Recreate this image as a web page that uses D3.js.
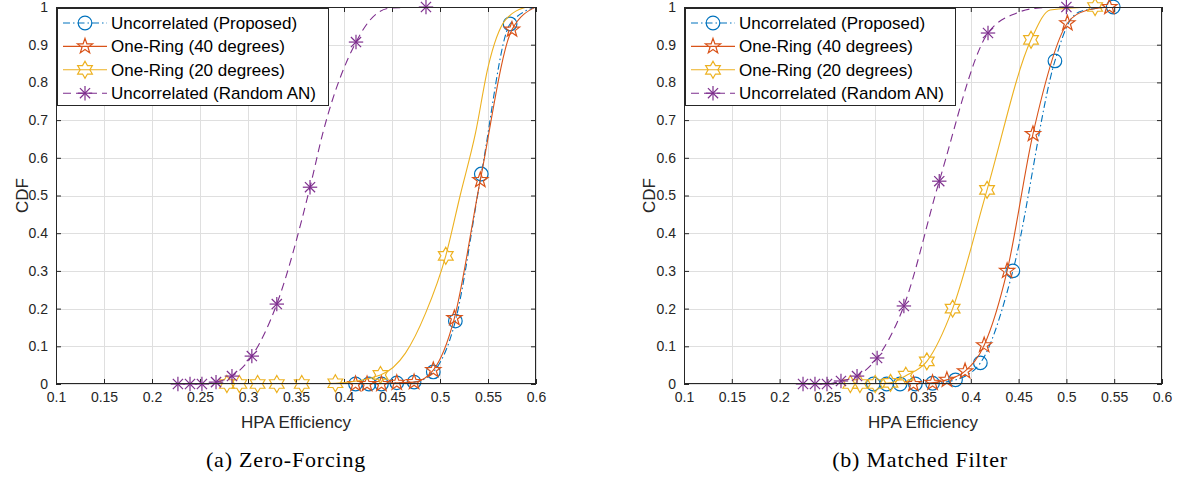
<!DOCTYPE html>
<html><head><meta charset="utf-8">
<script src="https://cdn.jsdelivr.net/npm/d3@7"></script>
<style>body{margin:0;background:#fff}svg{display:block}</style>
</head><body>
<svg id="chart" width="1184" height="479"></svg>
<script>
// ---------------- DATA ----------------
const xTickValues = [0.1, 0.15, 0.2, 0.25, 0.3, 0.35, 0.4, 0.45, 0.5, 0.55, 0.6];
const xTickLabels = ["0.1", "0.15", "0.2", "0.25", "0.3", "0.35", "0.4", "0.45", "0.5", "0.55", "0.6"];
const yTickValues = [0, 0.1, 0.2, 0.3, 0.4, 0.5, 0.6, 0.7, 0.8, 0.9, 1];
const yTickLabels = ["0", "0.1", "0.2", "0.3", "0.4", "0.5", "0.6", "0.7", "0.8", "0.9", "1"];
const seriesNames = ["Uncorrelated (Proposed)", "One-Ring (40 degrees)", "One-Ring (20 degrees)", "Uncorrelated (Random AN)"];
const panelTitles = ["(a) Zero-Forcing", "(b) Matched Filter"];
const xAxisLabel = "HPA Efficiency";
const yAxisLabel = "CDF";

// (a) Zero-Forcing: marker points and extra curve points
const zfProposedX = [0.412, 0.426, 0.439, 0.455, 0.473, 0.493, 0.516, 0.543, 0.573];
const zfProposedY = [0, 0, 0, 0.003, 0.005, 0.032, 0.167, 0.557, 0.955];
const zfProposedCurveX = [0.600];
const zfProposedCurveY = [1.0];

const zfRing40X = [0.412, 0.424, 0.439, 0.455, 0.473, 0.493, 0.515, 0.542, 0.575];
const zfRing40Y = [0, 0, 0, 0.003, 0.005, 0.037, 0.175, 0.541, 0.94];
const zfRing40CurveX = [0.600];
const zfRing40CurveY = [1.0];

const zfRing20X = [0.278, 0.291, 0.310, 0.330, 0.356, 0.391, 0.438, 0.506];
const zfRing20Y = [0, 0, 0, 0, 0, 0.002, 0.024, 0.34];
const zfRing20CurveX = [0.464, 0.485, 0.521, 0.537, 0.550, 0.568, 0.590];
const zfRing20CurveY = [0.082, 0.188, 0.5, 0.666, 0.84, 0.965, 1.0];

const zfRandomX = [0.227, 0.2396, 0.252, 0.2667, 0.2833, 0.304, 0.330, 0.3646, 0.4125, 0.4854];
const zfRandomY = [0, 0, 0, 0.005, 0.021, 0.074, 0.212, 0.522, 0.907, 1.0];
const zfRandomCurveX = [0.378, 0.427, 0.448];
const zfRandomCurveY = [0.666, 0.965, 0.997];

// (b) Matched Filter
const mfProposedX = [0.298, 0.312, 0.326, 0.342, 0.360, 0.384, 0.410, 0.444, 0.488, 0.549];
const mfProposedY = [0, 0, 0, 0, 0.002, 0.011, 0.056, 0.30, 0.857, 1.0];
const mfProposedCurveX = [0.504, 0.517];
const mfProposedCurveY = [0.965, 0.99];

const mfRing40X = [0.340, 0.360, 0.375, 0.394, 0.414, 0.438, 0.465, 0.501, 0.545];
const mfRing40Y = [0, 0.003, 0.011, 0.034, 0.103, 0.30, 0.663, 0.957, 1.0];
const mfRing40CurveX = [0.520];
const mfRing40CurveY = [0.99];

const mfRing20X = [0.274, 0.284, 0.300, 0.316, 0.332, 0.354, 0.381, 0.417, 0.463, 0.530];
const mfRing20Y = [0, 0, 0, 0.003, 0.022, 0.06, 0.20, 0.515, 0.913, 1.0];
const mfRing20CurveX = [0.483];
const mfRing20CurveY = [0.992];

const mfRandomX = [0.2245, 0.237, 0.2496, 0.2642, 0.281, 0.302, 0.330, 0.367, 0.418, 0.500];
const mfRandomY = [0, 0, 0, 0.008, 0.021, 0.069, 0.207, 0.538, 0.931, 1.0];
const mfRandomCurveX = [0.448, 0.469];
const mfRandomCurveY = [0.984, 0.997];

// ---------------- STYLE / LAYOUT ----------------
const colors = ["#0072BD", "#D95319", "#EDB120", "#7E2F8E"];
const dashes = ["7,3,1.5,3", null, null, "8,5"];
const markerKinds = ["circle", "pentagram", "hexagram", "asterisk"];

const panels = [
  { left: 56, right: 536, top: 7, bottom: 384, titleX: 286, ylabX: 22,
    series: [
      [zfProposedX, zfProposedY, zfProposedCurveX, zfProposedCurveY],
      [zfRing40X, zfRing40Y, zfRing40CurveX, zfRing40CurveY],
      [zfRing20X, zfRing20Y, zfRing20CurveX, zfRing20CurveY],
      [zfRandomX, zfRandomY, zfRandomCurveX, zfRandomCurveY]
    ], legendW: 272 },
  { left: 684, right: 1162, top: 7, bottom: 384, titleX: 920, ylabX: 649,
    series: [
      [mfProposedX, mfProposedY, mfProposedCurveX, mfProposedCurveY],
      [mfRing40X, mfRing40Y, mfRing40CurveX, mfRing40CurveY],
      [mfRing20X, mfRing20Y, mfRing20CurveX, mfRing20CurveY],
      [mfRandomX, mfRandomY, mfRandomCurveX, mfRandomCurveY]
    ], legendW: 271 }
];

const svg = d3.select("#chart");
svg.append("rect").attr("width", 1184).attr("height", 479).attr("fill", "#fff");
const axisColor = "#262626";
const sansFont = "'Liberation Sans', Arial, Helvetica, sans-serif";

function starPath(r, points, innerRatio) {
  const pts = [];
  for (let i = 0; i < points * 2; i++) {
    const rr = i % 2 === 0 ? r : r * innerRatio;
    const a = -Math.PI / 2 + i * Math.PI / points;
    pts.push([rr * Math.cos(a), rr * Math.sin(a)]);
  }
  return "M" + pts.map(p => p[0].toFixed(2) + "," + p[1].toFixed(2)).join("L") + "Z";
}

function drawMarker(g, kind, cx, cy, color) {
  const m = g.append("g").attr("transform", `translate(${cx},${cy})`)
    .attr("fill", "none").attr("stroke", color).attr("stroke-width", 1.2);
  if (kind === "circle") {
    m.append("circle").attr("r", 6.8);
  } else if (kind === "pentagram") {
    m.append("path").attr("d", starPath(8, 5, 0.40)).attr("stroke-linejoin", "miter");
  } else if (kind === "hexagram") {
    m.append("path").attr("d", starPath(8.5, 6, 0.577));
  } else if (kind === "asterisk") {
    const a = 7.2;
    for (let k = 0; k < 4; k++) {
      const t = k * Math.PI / 4;
      m.append("line").attr("x1", -a * Math.cos(t)).attr("y1", -a * Math.sin(t))
        .attr("x2", a * Math.cos(t)).attr("y2", a * Math.sin(t));
    }
  }
}

panels.forEach((p, pi) => {
  const x = d3.scaleLinear().domain([0.1, 0.6]).range([p.left, p.right]);
  const y = d3.scaleLinear().domain([0, 1]).range([p.bottom, p.top]);
  const g = svg.append("g");
  const clipId = "clip" + pi;
  svg.append("clipPath").attr("id", clipId).append("rect")
    .attr("x", p.left).attr("y", p.top).attr("width", p.right - p.left).attr("height", p.bottom - p.top);

  // grid
  g.append("g").selectAll("line").data(xTickValues).join("line")
    .attr("x1", d => Math.round(x(d)) + 0.5).attr("x2", d => Math.round(x(d)) + 0.5)
    .attr("y1", p.top).attr("y2", p.bottom).attr("stroke", "#dfdfdf").attr("stroke-width", 1);
  g.append("g").selectAll("line").data(yTickValues).join("line")
    .attr("y1", d => Math.round(y(d)) + 0.5).attr("y2", d => Math.round(y(d)) + 0.5)
    .attr("x1", p.left).attr("x2", p.right).attr("stroke", "#dfdfdf").attr("stroke-width", 1);

  // axes (bottom/left with labels, top/right mirrored ticks)
  const fmtX = (d, i) => xTickLabels[i];
  const fmtY = (d, i) => yTickLabels[i];
  const styleAxis = sel => {
    sel.selectAll("path.domain").remove();
    sel.selectAll(".tick line").attr("stroke", axisColor);
    sel.selectAll("text").attr("fill", axisColor).style("font-family", sansFont).style("font-size", "14px");
  };
  g.append("g").attr("transform", `translate(0,${p.bottom})`)
    .call(d3.axisBottom(x).tickValues(xTickValues).tickFormat(fmtX).tickSizeInner(-5).tickSizeOuter(0).tickPadding(8))
    .call(styleAxis);
  g.append("g").attr("transform", `translate(0,${p.top})`)
    .call(d3.axisTop(x).tickValues(xTickValues).tickFormat("").tickSizeInner(-5).tickSizeOuter(0))
    .call(styleAxis);
  g.append("g").attr("transform", `translate(${p.left},0)`)
    .call(d3.axisLeft(y).tickValues(yTickValues).tickFormat(fmtY).tickSizeInner(-5).tickSizeOuter(0).tickPadding(8))
    .call(styleAxis);
  g.append("g").attr("transform", `translate(${p.right},0)`)
    .call(d3.axisRight(y).tickValues(yTickValues).tickFormat("").tickSizeInner(-5).tickSizeOuter(0))
    .call(styleAxis);

  // series
  const line = d3.line().x(d => x(d[0])).y(d => y(d[1])).curve(d3.curveMonotoneX);
  p.series.forEach((s, si) => {
    const [mx, my, cx, cy] = s;
    const pts = mx.map((v, i) => [v, my[i]]).concat(cx.map((v, i) => [v, cy[i]]))
      .sort((a, b) => a[0] - b[0]);
    g.append("path").attr("d", line(pts)).attr("clip-path", `url(#${clipId})`)
      .attr("fill", "none").attr("stroke", colors[si]).attr("stroke-width", 1.1)
      .attr("stroke-dasharray", dashes[si]);
    const mg = g.append("g");
    mx.forEach((v, i) => drawMarker(mg, markerKinds[si], x(v), y(my[i]), colors[si]));
  });

  // box
  g.append("rect").attr("x", p.left + 0.5).attr("y", p.top + 0.5)
    .attr("width", p.right - p.left - 1).attr("height", p.bottom - p.top - 1)
    .attr("fill", "none").attr("stroke", axisColor).attr("stroke-width", 1);

  // legend
  const lg = g.append("g").attr("transform", `translate(${p.left + 1},${p.top + 1})`);
  lg.append("rect").attr("x", 0.5).attr("y", 0.5).attr("width", p.legendW - 1).attr("height", 97)
    .attr("fill", "#fff").attr("stroke", axisColor).attr("stroke-width", 1);
  seriesNames.forEach((name, si) => {
    const ry = 15 + si * 23.4;
    lg.append("line").attr("x1", 6).attr("x2", 50).attr("y1", ry).attr("y2", ry)
      .attr("stroke", colors[si]).attr("stroke-width", 1.1).attr("stroke-dasharray", dashes[si]);
    drawMarker(lg, markerKinds[si], 28, ry, colors[si]);
    lg.append("text").attr("x", 54).attr("y", ry).attr("dy", "0.35em")
      .attr("fill", "#000").style("font-family", sansFont).style("font-size", "17px").text(name);
  });

  // axis labels
  svg.append("text").attr("x", (p.left + p.right) / 2).attr("y", 428).attr("text-anchor", "middle")
    .attr("fill", axisColor).style("font-family", sansFont).style("font-size", "17px").text(xAxisLabel);
  svg.append("text").attr("transform", `translate(${p.ylabX},${(p.top + p.bottom) / 2}) rotate(-90)`)
    .attr("text-anchor", "middle").attr("dy", "0.35em")
    .attr("fill", axisColor).style("font-family", sansFont).style("font-size", "17px").text(yAxisLabel);
  // caption
  svg.append("text").attr("x", p.titleX).attr("y", 467).attr("text-anchor", "middle")
    .attr("fill", "#000").style("font-family", "'Liberation Serif', 'DejaVu Serif', serif").style("font-size", "22px")
    .style("letter-spacing", "0.8px")
    .text(panelTitles[pi]);
});
</script>
</body></html>
